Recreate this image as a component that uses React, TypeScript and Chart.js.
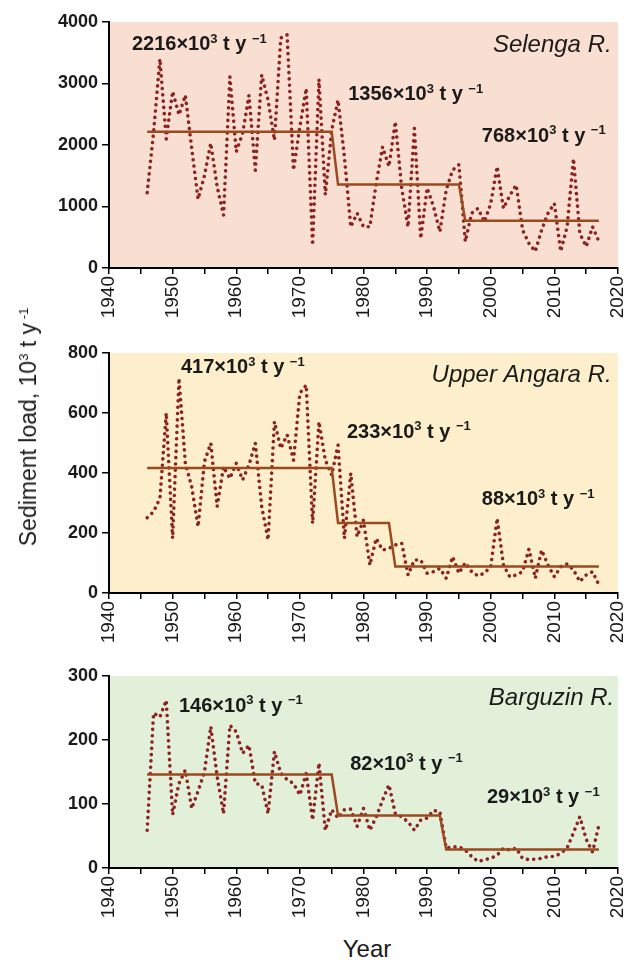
import React, { useEffect, useRef } from "react";
import { Chart, registerables } from "chart.js";

Chart.register(...registerables);

// ---------- DATA ----------
const years = [
  1946, 1947, 1948, 1949, 1950, 1951, 1952, 1953, 1954, 1955,
  1956, 1957, 1958, 1959, 1960, 1961, 1962, 1963, 1964, 1965,
  1966, 1967, 1968, 1969, 1970, 1971, 1972, 1973, 1974, 1975,
  1976, 1977, 1978, 1979, 1980, 1981, 1982, 1983, 1984, 1985,
  1986, 1987, 1988, 1989, 1990, 1991, 1992, 1993, 1994, 1995,
  1996, 1997, 1998, 1999, 2000, 2001, 2002, 2003, 2004, 2005,
  2006, 2007, 2008, 2009, 2010, 2011, 2012, 2013, 2014, 2015,
  2016, 2017,
];

const selengaLoad = [
  1225, 2200, 3400, 2100, 2870, 2490, 2810, 1950, 1120, 1500,
  2030, 1320, 860, 3110, 1890, 2190, 2810, 1590, 3140, 2730,
  2080, 3740, 3790, 1590, 2300, 2920, 370, 3070, 1190, 2240,
  2730, 1810, 670, 890, 670, 670, 1380, 1970, 1650, 2380,
  1300, 670, 2270, 480, 1300, 1000, 590, 1270, 1590, 1680,
  430, 890, 970, 750, 1050, 1650, 970, 1180, 1350, 620,
  400, 270, 620, 890, 1050, 270, 670, 1780, 560, 350,
  670, 430,
];

const angaraLoad = [
  251, 271, 315, 600, 182, 716, 432, 354, 221, 438,
  499, 288, 421, 382, 432, 377, 427, 499, 288, 177,
  571, 482, 527, 443, 666, 693, 232, 571, 443, 393,
  493, 182, 399, 188, 243, 93, 182, 143, 149, 160,
  166, 60, 110, 110, 66, 71, 82, 49, 121, 66,
  101, 71, 57, 66, 88, 249, 93, 54, 60, 71,
  146, 49, 143, 93, 54, 88, 97, 77, 38, 60,
  71, 27,
];

const barguzinLoad = [
  59, 242, 236, 262, 83, 132, 153, 93, 120, 150,
  221, 143, 85, 223, 213, 179, 192, 132, 130, 85,
  182, 148, 138, 132, 114, 148, 75, 164, 59, 91,
  78, 91, 92, 65, 93, 59, 80, 106, 130, 85,
  80, 72, 59, 75, 78, 90, 88, 31, 33, 33,
  28, 18, 10, 13, 15, 20, 31, 28, 31, 15,
  13, 14, 15, 18, 18, 23, 31, 55, 80, 45,
  25, 67,
];

const selengaPeriods = [[1946, 1975], [1976, 1995], [1996, 2017]];
const selengaMeans = [2216, 1356, 768];
const angaraPeriods = [[1946, 1975], [1976, 1984], [1985, 2017]];
const angaraMeans = [417, 233, 88];
const barguzinPeriods = [[1946, 1975], [1976, 1992], [1993, 2017]];
const barguzinMeans = [146, 82, 29];

const riverNames = ["Selenga R.", "Upper Angara R.", "Barguzin R."];
const xTitle = "Year";

// ---------- STYLE ----------
const FONT = '"Liberation Sans", Arial, Helvetica, sans-serif';
const DOT_COLOR = "#8E2222";
const MEAN_COLOR = "#9A4A1E";
const AXIS_LEFT = 109;
const CANVAS_W = 645;
const PLOT_RIGHT = 618;

type Part = [string, boolean];
type Label = { year: number; value: number; parts: Part[]; italic?: boolean; align?: "left" | "right"; size: number };

function meanParts(m: number): Part[] {
  return [[`${m}×10`, false], ["3", true], [" t y ", false], ["\u22121", true]];
}

function drawRich(ctx: CanvasRenderingContext2D, x: number, y: number, lab: Label) {
  const size = lab.size;
  const mainFont = lab.italic ? `italic ${size}px ${FONT}` : `bold ${size}px ${FONT}`;
  const supSize = Math.round(size * 0.66);
  const supFont = `bold ${supSize}px ${FONT}`;
  let total = 0;
  for (const [t, sup] of lab.parts) {
    ctx.font = sup ? supFont : mainFont;
    total += ctx.measureText(t).width;
  }
  let cx = lab.align === "right" ? x - total : x;
  ctx.fillStyle = "#1a1a1a";
  ctx.textBaseline = "alphabetic";
  ctx.textAlign = "left";
  for (const [t, sup] of lab.parts) {
    ctx.font = sup ? supFont : mainFont;
    ctx.fillText(t, cx, sup ? y - size * 0.38 : y);
    cx += ctx.measureText(t).width;
  }
}

function makeDeco(bg: string, labels: Label[]) {
  return {
    id: "deco",
    beforeDraw(chart: any) {
      const { ctx, chartArea: a } = chart;
      ctx.save();
      ctx.fillStyle = bg;
      ctx.fillRect(a.left, a.top, a.right - a.left, a.bottom - a.top);
      ctx.restore();
    },
    afterDatasetsDraw(chart: any) {
      const { ctx } = chart;
      const xs = chart.scales.x;
      const ys = chart.scales.y;
      ctx.save();
      for (const lab of labels) {
        drawRich(ctx, xs.getPixelForValue(lab.year), ys.getPixelForValue(lab.value), lab);
      }
      ctx.restore();
    },
  };
}

type PanelCfg = {
  top: number;
  height: number;
  padTop: number;
  xAxisH: number;
  yMax: number;
  yStep: number;
  bg: string;
  load: number[];
  periods: number[][];
  means: number[];
  labels: Label[];
};

function Panel({ cfg }: { cfg: PanelCfg }) {
  const ref = useRef<HTMLCanvasElement>(null);
  useEffect(() => {
    const loadPts = years.map((yr, i) => ({ x: yr, y: cfg.load[i] }));
    const meanPts = years.map((yr) => {
      const k = cfg.periods.findIndex((p) => yr >= p[0] && yr <= p[1]);
      return { x: yr, y: cfg.means[k] };
    });
    const chart = new Chart(ref.current!, {
      type: "line",
      data: {
        datasets: [
          {
            data: meanPts,
            borderColor: MEAN_COLOR,
            borderWidth: 2.5,
            pointRadius: 0,
            tension: 0,
            order: 0,
          },
          {
            data: loadPts,
            borderColor: DOT_COLOR,
            borderWidth: 3.6,
            borderDash: [0.01, 6.3],
            borderCapStyle: "round",
            pointRadius: 0,
            tension: 0,
            order: 1,
          },
        ],
      } as any,
      options: {
        animation: false,
        responsive: false,
        devicePixelRatio: 1,
        layout: { padding: { top: cfg.padTop, right: CANVAS_W - PLOT_RIGHT, left: 0, bottom: 0 } },
        plugins: { legend: { display: false }, tooltip: { enabled: false } },
        scales: {
          x: {
            type: "linear",
            min: 1940,
            max: 2020,
            ticks: {
              stepSize: 5,
              autoSkip: false,
              maxRotation: 90,
              minRotation: 90,
              color: "#1a1a1a",
              padding: 2,
              font: { family: FONT, size: 19 },
              callback: (v: any) => (Number(v) % 10 === 0 ? String(v) : ""),
            },
            grid: { drawOnChartArea: false, drawTicks: true, tickLength: 6, color: "#000", lineWidth: 1.5 },
            border: { display: true, color: "#000", width: 2 },
            afterFit: (s: any) => {
              s.height = cfg.xAxisH;
            },
          },
          y: {
            min: 0,
            max: cfg.yMax,
            ticks: {
              stepSize: cfg.yStep,
              color: "#1a1a1a",
              padding: 4,
              font: { family: FONT, size: 18, weight: "bold" },
              callback: (v: any) => String(v),
            },
            grid: { drawOnChartArea: false, drawTicks: true, tickLength: 7, color: "#000", lineWidth: 1.5 },
            border: { display: true, color: "#000", width: 2 },
            afterFit: (s: any) => {
              s.width = AXIS_LEFT;
            },
          },
        },
      } as any,
      plugins: [makeDeco(cfg.bg, cfg.labels)],
    });
    return () => chart.destroy();
  }, []);
  return (
    <div style={{ position: "absolute", left: 0, top: cfg.top, width: CANVAS_W, height: cfg.height }}>
      <canvas ref={ref} width={CANVAS_W} height={cfg.height} style={{ display: "block" }} />
    </div>
  );
}

const panels: PanelCfg[] = [
  {
    top: 0,
    height: 330,
    padTop: 22,
    xAxisH: 62,
    yMax: 4000,
    yStep: 1000,
    bg: "#F9DFD1",
    load: selengaLoad,
    periods: selengaPeriods,
    means: selengaMeans,
    labels: [
      { year: 1943.6, value: 3540, parts: meanParts(selengaMeans[0]), size: 20 },
      { year: 1977.6, value: 2730, parts: meanParts(selengaMeans[1]), size: 20 },
      { year: 1998.6, value: 2050, parts: meanParts(selengaMeans[2]), size: 20 },
      { year: 2019, value: 3510, parts: [[riverNames[0], false]], italic: true, align: "right", size: 24 },
    ],
  },
  {
    top: 330,
    height: 330,
    padTop: 23,
    xAxisH: 67,
    yMax: 800,
    yStep: 200,
    bg: "#FDEFCB",
    load: angaraLoad,
    periods: angaraPeriods,
    means: angaraMeans,
    labels: [
      { year: 1951.3, value: 733, parts: meanParts(angaraMeans[0]), size: 20 },
      { year: 1977.4, value: 517, parts: meanParts(angaraMeans[1]), size: 20 },
      { year: 1998.6, value: 293, parts: meanParts(angaraMeans[2]), size: 20 },
      { year: 2019, value: 703, parts: [[riverNames[1], false]], italic: true, align: "right", size: 24 },
    ],
  },
  {
    top: 660,
    height: 270,
    padTop: 16,
    xAxisH: 62,
    yMax: 300,
    yStep: 100,
    bg: "#E2EFD9",
    load: barguzinLoad,
    periods: barguzinPeriods,
    means: barguzinMeans,
    labels: [
      { year: 1951, value: 244, parts: meanParts(barguzinMeans[0]), size: 20 },
      { year: 1977.9, value: 153, parts: meanParts(barguzinMeans[1]), size: 20 },
      { year: 1999.4, value: 101, parts: meanParts(barguzinMeans[2]), size: 20 },
      { year: 2019.4, value: 255, parts: [[riverNames[2], false]], italic: true, align: "right", size: 24 },
    ],
  },
];

export default function App() {
  return (
    <div
      style={{
        position: "absolute",
        left: 0,
        top: 0,
        width: 625,
        height: 960,
        overflow: "hidden",
        background: "#fff",
        fontFamily: FONT,
        color: "#1a1a1a",
      }}
    >
      {panels.map((p, i) => (
        <Panel key={i} cfg={p} />
      ))}
      <div
        style={{
          position: "absolute",
          left: 26,
          top: 427,
          transform: "translate(-50%, -50%) rotate(-90deg)",
          whiteSpace: "nowrap",
          fontSize: 23,
          lineHeight: "26px",
        }}
      >
        Sediment load, 10<span style={{ fontSize: 13, verticalAlign: "8px" }}>3</span> t y
        <span style={{ fontSize: 13, verticalAlign: "8px" }}> -1</span>
      </div>
      <div
        style={{
          position: "absolute",
          left: 367,
          top: 949,
          transform: "translate(-50%, -50%)",
          whiteSpace: "nowrap",
          fontSize: 24,
          lineHeight: "26px",
        }}
      >
        {xTitle}
      </div>
    </div>
  );
}
